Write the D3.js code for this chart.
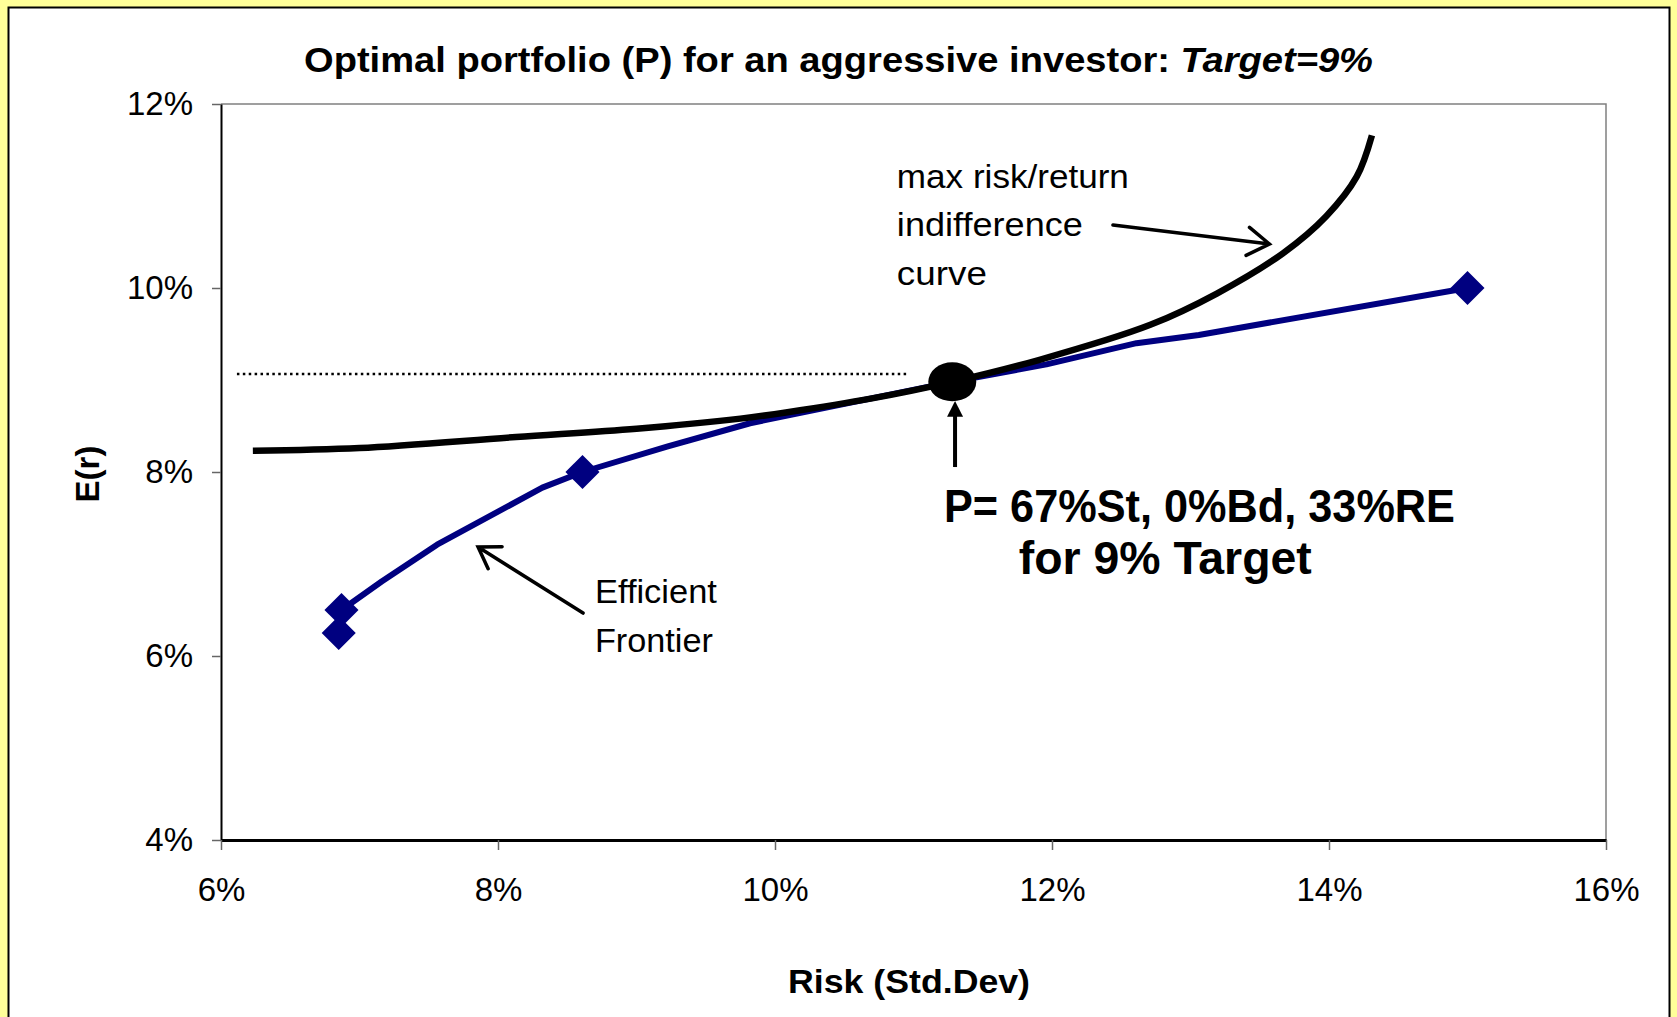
<!DOCTYPE html>
<html>
<head>
<meta charset="utf-8">
<script src="https://cdn.jsdelivr.net/npm/d3@7"></script>
<style>
  html, body { margin: 0; padding: 0; background: #FFFF99; }
  svg { display: block; }
  text { font-family: "Liberation Sans", Arial, sans-serif; fill: #000; }
</style>
</head>
<body>
<script>
// ---------- data (percent) ----------
const xTicks = [6, 8, 10, 12, 14, 16];
const yTicks = [4, 6, 8, 10, 12];

// efficient frontier (risk, return)
const frontierRisk   = [6.85, 6.87, 7.16, 7.56, 8.32, 8.61, 9.22, 9.82, 11.28, 11.96, 12.61, 13.06, 15.0];
const frontierReturn = [6.25, 6.50, 6.81, 7.21, 7.83, 8.00, 8.275, 8.53, 8.98, 9.17, 9.40, 9.49, 10.0];

// highlighted portfolios on the frontier
const markerRisk   = [6.85, 6.87, 8.61, 15.0];
const markerReturn = [6.25, 6.50, 8.00, 10.0];

// max risk/return indifference curve
const curveRisk   = [6.23, 7.00, 8.13, 9.00, 9.75, 10.09, 10.70, 11.28, 11.91, 12.71, 13.19, 13.67, 13.98, 14.20, 14.31];
const curveReturn = [8.23, 8.26, 8.38, 8.47, 8.58, 8.65, 8.80, 8.98, 9.22, 9.60, 9.94, 10.38, 10.78, 11.21, 11.66];

// optimal portfolio P and target line
const optimalRisk = 11.28, optimalReturn = 8.98;
const targetLineRisk = [6.115, 10.95];
const targetLineReturn = 9.065;

// texts
const titleMain = "Optimal portfolio (P) for an aggressive investor: ";
const titleItalic = "Target=9%";
const xTitle = "Risk (Std.Dev)";
const yTitle = "E(r)";
const curveLabel = ["max risk/return", "indifference", "curve"];
const frontierLabel = ["Efficient", "Frontier"];
const pLabel = ["P= 67%St, 0%Bd, 33%RE", "for 9% Target"];

// ---------- layout ----------
const W = 1677, H = 1017;
const svg = d3.select("body").append("svg").attr("width", W).attr("height", H);

svg.append("rect").attr("x", 0).attr("y", 0).attr("width", W).attr("height", H).attr("fill", "#FFFF99");
svg.append("rect").attr("x", 8.5).attr("y", 7.5).attr("width", 1661).attr("height", 1030)
  .attr("fill", "#fff").attr("stroke", "#000").attr("stroke-width", 2);

const x = d3.scaleLinear().domain([6, 16]).range([221, 1606]);
const y = d3.scaleLinear().domain([4, 12]).range([840, 104]);

// plot border (top/right gray)
svg.append("path")
  .attr("d", `M${x(6)},${y(12)}H${x(16)}V${y(4)}`)
  .attr("fill", "none").attr("stroke", "#808080").attr("stroke-width", 1.5);

// axes
const yAxis = d3.axisLeft(y).tickValues(yTicks).tickFormat(d => d + "%").tickSize(9).tickSizeOuter(0).tickPadding(19);
const gy = svg.append("g").attr("transform", `translate(${x(6)},0)`).call(yAxis);
gy.select(".domain").attr("stroke", "#000").attr("stroke-width", 2);
gy.selectAll(".tick line").attr("stroke", "#666").attr("stroke-width", 1.5);
gy.selectAll(".tick text").attr("font-size", 33).attr("font-family", "Liberation Sans, Arial, sans-serif").attr("fill", "#000");

const xAxis = d3.axisBottom(x).tickValues(xTicks).tickFormat(d => d + "%").tickSize(10).tickSizeOuter(0).tickPadding(28);
const gx = svg.append("g").attr("transform", `translate(0,${y(4)})`).call(xAxis);
gx.select(".domain").attr("stroke", "#000").attr("stroke-width", 3);
gx.selectAll(".tick line").attr("stroke", "#666").attr("stroke-width", 1.5);
gx.selectAll(".tick text").attr("font-size", 33).attr("font-family", "Liberation Sans, Arial, sans-serif").attr("fill", "#000");

// title
const t = svg.append("text").attr("x", 304).attr("y", 72)
  .attr("font-size", 35).attr("font-weight", "bold")
  .attr("textLength", 1069).attr("lengthAdjust", "spacingAndGlyphs");
t.append("tspan").text(titleMain);
t.append("tspan").attr("font-style", "italic").text(titleItalic);

// axis titles
svg.append("text").attr("x", 909).attr("y", 993).attr("text-anchor", "middle")
  .attr("font-size", 33).attr("font-weight", "bold")
  .attr("textLength", 242).attr("lengthAdjust", "spacingAndGlyphs").text(xTitle);
svg.append("text").attr("transform", `translate(99,474) rotate(-90)`).attr("text-anchor", "middle")
  .attr("font-size", 33).attr("font-weight", "bold").text(yTitle);

// target dotted line
svg.append("line")
  .attr("x1", x(targetLineRisk[0])).attr("x2", x(targetLineRisk[1]))
  .attr("y1", y(targetLineReturn)).attr("y2", y(targetLineReturn))
  .attr("stroke", "#000").attr("stroke-width", 2.5).attr("stroke-dasharray", "2.5,3.4");

// efficient frontier line
const frontier = frontierRisk.map((r, i) => [r, frontierReturn[i]]);
svg.append("path").datum(frontier)
  .attr("d", d3.line().x(d => x(d[0])).y(d => y(d[1])))
  .attr("fill", "none").attr("stroke", "#000080").attr("stroke-width", 6).attr("stroke-linejoin", "round");

// indifference curve
const curve = curveRisk.map((r, i) => [r, curveReturn[i]]);
svg.append("path").datum(curve)
  .attr("d", d3.line().curve(d3.curveCatmullRom.alpha(0.5)).x(d => x(d[0])).y(d => y(d[1])))
  .attr("fill", "none").attr("stroke", "#000").attr("stroke-width", 6.5);

// markers
const markers = markerRisk.map((r, i) => [r, markerReturn[i]]);
svg.append("g").selectAll("path").data(markers).join("path")
  .attr("d", d3.symbol(d3.symbolSquare, 580)())
  .attr("transform", d => `translate(${x(d[0])},${y(d[1])}) rotate(45)`)
  .attr("fill", "#000080");

// optimal point P
svg.append("ellipse").attr("cx", x(optimalRisk)).attr("cy", y(optimalReturn))
  .attr("rx", 24).attr("ry", 19.5).attr("fill", "#000");

// ---------- annotations ----------
function openArrow(fromD, toD, arm, halfAngleDeg, width) {
  const x1 = x(fromD[0]), y1 = y(fromD[1]), x2 = x(toD[0]), y2 = y(toD[1]);
  const ang = Math.atan2(y2 - y1, x2 - x1);
  const ha = halfAngleDeg * Math.PI / 180;
  const a1 = [x2 - arm * Math.cos(ang - ha), y2 - arm * Math.sin(ang - ha)];
  const a2 = [x2 - arm * Math.cos(ang + ha), y2 - arm * Math.sin(ang + ha)];
  svg.append("path")
    .attr("d", `M${x1},${y1}L${x2},${y2}M${a1[0]},${a1[1]}L${x2},${y2}L${a2[0]},${a2[1]}`)
    .attr("fill", "none").attr("stroke", "#000").attr("stroke-width", width)
    .attr("stroke-linecap", "round").attr("stroke-linejoin", "miter");
}
// curve arrow
openArrow([12.44, 10.685], [13.57, 10.478], 26, 33, 3.5);
// frontier arrow
openArrow([8.614, 6.467], [7.856, 7.185], 24, 33, 3.5);

// P arrow (filled head)
const px = x(11.30);
svg.append("line").attr("x1", px).attr("x2", px).attr("y1", y(8.054)).attr("y2", y(8.62))
  .attr("stroke", "#000").attr("stroke-width", 4);
svg.append("path")
  .attr("d", `M${px},${y(8.772)}L${px - 8},${y(8.60)}L${px + 8},${y(8.60)}Z`)
  .attr("fill", "#000");

// curve label
const curveLabelLen = [232, 186, 90];
const curveLabelY = [11.087, 10.565, 10.033];
curveLabel.forEach((s, i) => {
  svg.append("text").attr("x", x(10.88)).attr("y", y(curveLabelY[i]))
    .attr("font-size", 33).attr("textLength", curveLabelLen[i]).attr("lengthAdjust", "spacingAndGlyphs").text(s);
});

// frontier label
const frontierLabelLen = [122, 118];
const frontierLabelY = [6.576, 6.043];
frontierLabel.forEach((s, i) => {
  svg.append("text").attr("x", x(8.70)).attr("y", y(frontierLabelY[i]))
    .attr("font-size", 33).attr("textLength", frontierLabelLen[i]).attr("lengthAdjust", "spacingAndGlyphs").text(s);
});

// P label
const pLabelX = [11.22, 11.76];
const pLabelY = [7.46, 6.89];
const pLabelLen = [511, 293];
pLabel.forEach((s, i) => {
  svg.append("text").attr("x", x(pLabelX[i])).attr("y", y(pLabelY[i]))
    .attr("font-size", 46).attr("font-weight", "bold")
    .attr("textLength", pLabelLen[i]).attr("lengthAdjust", "spacingAndGlyphs").text(s);
});
</script>
</body>
</html>
